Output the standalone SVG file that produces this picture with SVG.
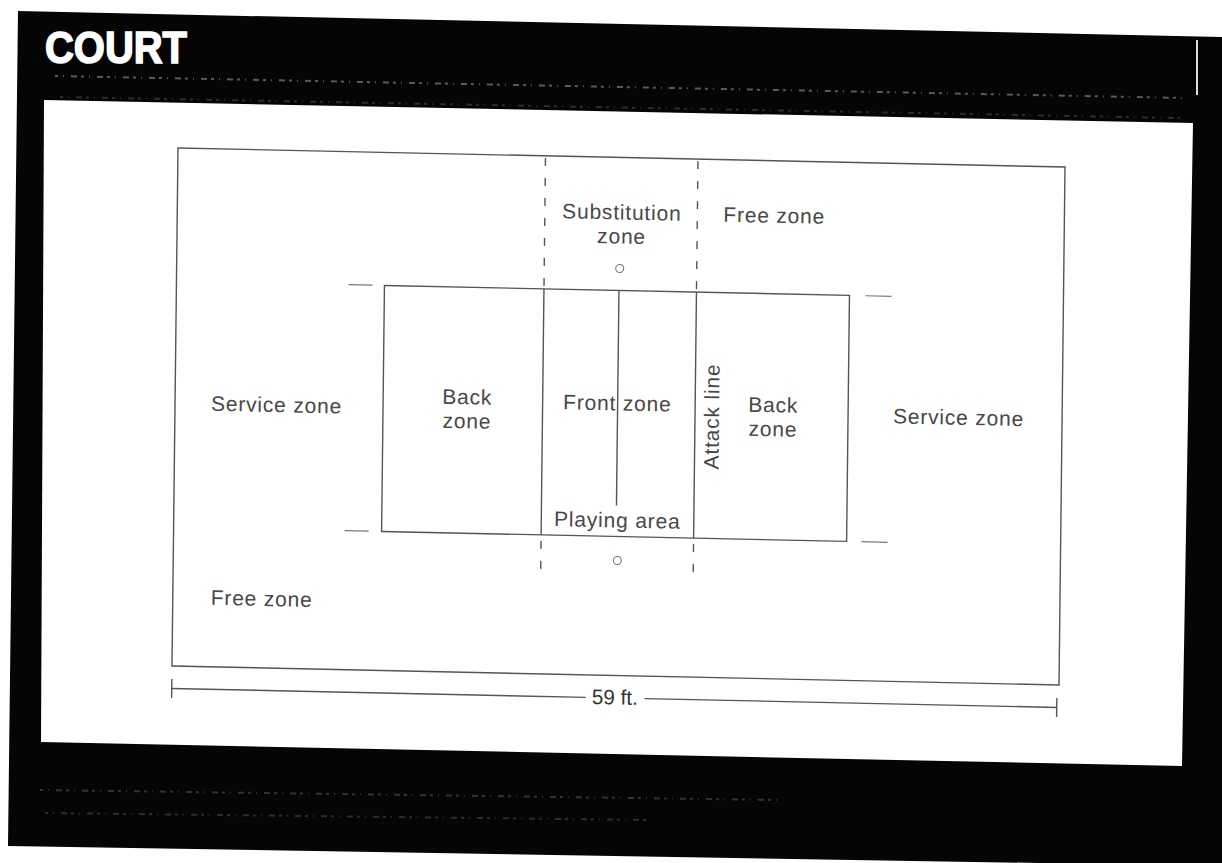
<svg xmlns="http://www.w3.org/2000/svg" width="1222" height="863" viewBox="0 0 1222 863">
  <style>
    .lbl { font-family: "Liberation Sans", Arial, sans-serif; font-size: 21px; fill: #484848; letter-spacing: 0.8px; }
    .mid { text-anchor: middle; }
    .ln { stroke: #555; stroke-width: 1.4; fill: none; }
    .dash { stroke: #555; stroke-width: 1.4; fill: none; stroke-dasharray: 8 12; }
    .tick { stroke: #777; stroke-width: 1.2; }
    .speck { stroke: #6a6a6a; stroke-width: 2; stroke-dasharray: 3 5 1 7 6 4; fill: none; }
  </style>

  <rect width="1222" height="863" fill="#ffffff"/>

  <!-- page frame -->
  <g id="frame">
    <polygon points="18,11 1222,37 1222,866 8,846" fill="#050505"/>
    <polygon points="44,100 1193,123 1182,766 41,742" fill="#ffffff"/>
    <line x1="1197" y1="40" x2="1197" y2="95" stroke="#dddddd" stroke-width="2"/>
    <path class="speck" d="M55,76 L1185,98" opacity="0.85"/>
    <path class="speck" d="M60,97 L1180,118" opacity="0.4"/>
    <path class="speck" d="M40,790 L780,800" opacity="0.45" stroke-width="5"/>
    <path class="speck" d="M45,813 L650,820" opacity="0.4" stroke-width="5"/>
    <text x="45" y="63" font-family="'Liberation Sans', Arial, sans-serif" font-weight="bold" font-size="45" textLength="142" lengthAdjust="spacingAndGlyphs" fill="#ffffff" stroke="#ffffff" stroke-width="1.6">COURT</text>
  </g>

  <g id="diagram" transform="matrix(1 0.0214 -0.0116 1 1.717 -3.809)">
    <g id="connectors">
      <rect id="outer" class="ln" x="178" y="148" width="887" height="518"/>
      <rect id="court" class="ln" x="386" y="281" width="465" height="246"/>
      <line id="net" class="ln" x1="620.5" y1="281" x2="620.5" y2="496"/>
      <line class="dash" x1="545.5" y1="150" x2="545.5" y2="281"/>
      <line class="ln" x1="545.5" y1="281" x2="545.5" y2="527"/>
      <line class="dash" x1="545.5" y1="533" x2="545.5" y2="567"/>
      <line class="dash" x1="698" y1="150" x2="698" y2="281"/>
      <line class="ln" x1="698" y1="281" x2="698" y2="527" stroke-width="2.2"/>
      <line class="dash" x1="698" y1="533" x2="698" y2="568"/>
      <line class="tick" x1="350" y1="281" x2="374" y2="281"/>
      <line class="tick" x1="349" y1="527" x2="373" y2="527"/>
      <line class="tick" x1="867" y1="281" x2="893" y2="281"/>
      <line class="tick" x1="866" y1="527" x2="892" y2="527"/>
      <circle cx="621" cy="259" r="4" fill="none" stroke="#777" stroke-width="1.1"/>
      <circle cx="622" cy="551" r="4" fill="none" stroke="#777" stroke-width="1.1"/>
      <g id="dimension">
        <line class="ln" x1="178" y1="688.5" x2="592" y2="688.5"/>
        <line class="ln" x1="651" y1="688.5" x2="1063" y2="688.5"/>
        <line class="ln" x1="178" y1="679" x2="178" y2="698"/>
        <line class="ln" x1="1063" y1="679" x2="1063" y2="698"/>
      </g>
    </g>

    <g id="substitution-zone"><text class="lbl mid" x="622.5" y="210">Substitution</text><text class="lbl mid" x="622.5" y="234">zone</text></g>
    <g id="free-zone-top"><text class="lbl" x="724" y="210">Free zone</text></g>
    <g id="service-zone-left"><text class="lbl" x="214" y="410">Service zone</text></g>
    <g id="back-zone-left"><text class="lbl mid" x="470" y="398">Back</text><text class="lbl mid" x="470" y="422">zone</text></g>
    <g id="front-zone"><text class="lbl" x="566" y="401">Front zone</text></g>
    <g id="attack-line"><text class="lbl mid" x="722" y="405" transform="rotate(-90 722 405)">Attack line</text></g>
    <g id="back-zone-right"><text class="lbl mid" x="776" y="399.5">Back</text><text class="lbl mid" x="776" y="423.5">zone</text></g>
    <g id="service-zone-right"><text class="lbl" x="896" y="408">Service zone</text></g>
    <g id="playing-area"><text class="lbl mid" x="621.5" y="518">Playing area</text></g>
    <g id="free-zone-bottom"><text class="lbl" x="216" y="604">Free zone</text></g>
    <g id="length-label"><text x="598" y="695" font-family="'Liberation Sans', Arial, sans-serif" font-size="21" textLength="46" lengthAdjust="spacingAndGlyphs" fill="#333">59 ft.</text></g>
  </g>
</svg>
